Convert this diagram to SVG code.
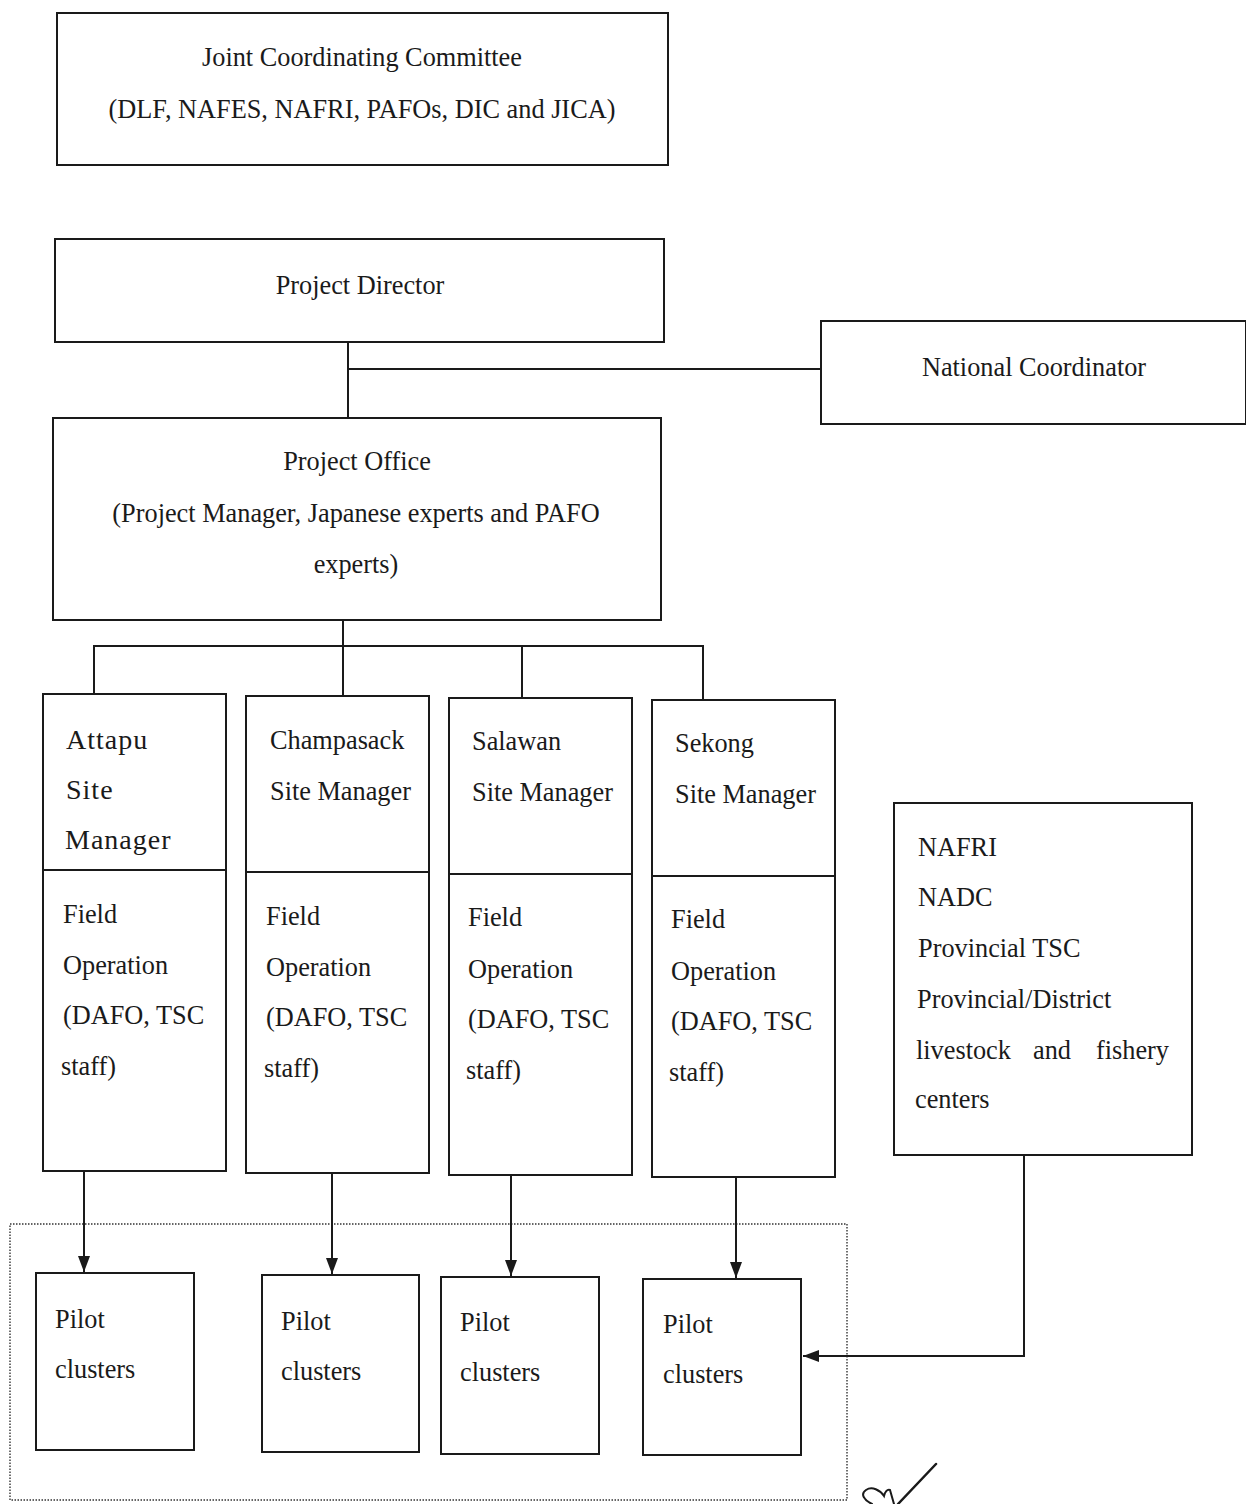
<svg xmlns="http://www.w3.org/2000/svg" width="1246" height="1504" viewBox="0 0 1246 1504">
  <style>
    .box { fill: #ffffff; stroke: #1a1a1a; stroke-width: 2; }
    .div { stroke: #1a1a1a; stroke-width: 2; }
    .wire { fill: none; stroke: #1a1a1a; stroke-width: 2; }
    .dot { fill: none; stroke: #333333; stroke-width: 1.4; stroke-dasharray: 1.5 1.5; }
    text { font-family: "Liberation Serif", "Times New Roman", serif; font-size: 26.3px; fill: #1a1a1a; }
    .mid { text-anchor: middle; }
    .big { font-size: 28px; letter-spacing: 1px; }
  </style>
  <defs>
    <marker id="head" viewBox="0 0 16 12" refX="16" refY="6" markerWidth="16" markerHeight="12" markerUnits="userSpaceOnUse" orient="auto">
      <path d="M0,0 L16,6 L0,12 Z" fill="#1a1a1a"/>
    </marker>
  </defs>

  <rect width="1246" height="1504" fill="#ffffff"/>

  <!-- grouping frame around the pilot clusters -->
  <rect class="dot" x="10" y="1224" width="837" height="276"/>

  <!-- connectors -->
  <g id="connectors">
    <path class="wire" d="M348,342 V418 M348,369 H821"/>
    <path class="wire" d="M343,620 V646 M94,694 V646 H703 V700 M343,646 V696 M522,646 V698"/>
    <path class="wire" d="M84,1171 V1272" marker-end="url(#head)"/>
    <path class="wire" d="M332,1173 V1274" marker-end="url(#head)"/>
    <path class="wire" d="M511,1175 V1276" marker-end="url(#head)"/>
    <path class="wire" d="M736,1177 V1278" marker-end="url(#head)"/>
    <path class="wire" d="M1024,1155 V1356 H803" marker-end="url(#head)"/>
  </g>

  <g id="jcc">
    <rect class="box" x="57" y="13" width="611" height="152"/>
    <text class="mid" x="362" y="66">Joint Coordinating Committee</text>
    <text class="mid" x="362" y="118">(DLF, NAFES, NAFRI, PAFOs, DIC and JICA)</text>
  </g>

  <g id="project-director">
    <rect class="box" x="55" y="239" width="609" height="103"/>
    <text class="mid" x="360" y="294">Project Director</text>
  </g>

  <g id="national-coordinator">
    <rect class="box" x="821" y="321" width="425" height="103"/>
    <text class="mid" x="1034" y="376">National Coordinator</text>
  </g>

  <g id="project-office">
    <rect class="box" x="53" y="418" width="608" height="202"/>
    <text class="mid" x="357" y="470">Project Office</text>
    <text class="mid" x="356" y="522">(Project Manager, Japanese experts and PAFO</text>
    <text class="mid" x="356" y="573">experts)</text>
  </g>

  <g id="site-attapu">
    <rect class="box" x="43" y="694" width="183" height="477"/>
    <line class="div" x1="43" y1="870" x2="226" y2="870"/>
    <text class="big" x="66" y="749">Attapu</text>
    <text class="big" x="66" y="799">Site</text>
    <text class="big" x="65" y="849">Manager</text>
    <text x="63" y="923">Field</text>
    <text x="63" y="974">Operation</text>
    <text x="63" y="1024">(DAFO, TSC</text>
    <text x="61" y="1075">staff)</text>
  </g>

  <g id="site-champasack">
    <rect class="box" x="246" y="696" width="183" height="477"/>
    <line class="div" x1="246" y1="872" x2="429" y2="872"/>
    <text x="270" y="749">Champasack</text>
    <text x="270" y="800">Site Manager</text>
    <text x="266" y="925">Field</text>
    <text x="266" y="976">Operation</text>
    <text x="266" y="1026">(DAFO, TSC</text>
    <text x="264" y="1077">staff)</text>
  </g>

  <g id="site-salawan">
    <rect class="box" x="449" y="698" width="183" height="477"/>
    <line class="div" x1="449" y1="874" x2="632" y2="874"/>
    <text x="472" y="750">Salawan</text>
    <text x="472" y="801">Site Manager</text>
    <text x="468" y="926">Field</text>
    <text x="468" y="978">Operation</text>
    <text x="468" y="1028">(DAFO, TSC</text>
    <text x="466" y="1079">staff)</text>
  </g>

  <g id="site-sekong">
    <rect class="box" x="652" y="700" width="183" height="477"/>
    <line class="div" x1="652" y1="876" x2="835" y2="876"/>
    <text x="675" y="752">Sekong</text>
    <text x="675" y="803">Site Manager</text>
    <text x="671" y="928">Field</text>
    <text x="671" y="980">Operation</text>
    <text x="671" y="1030">(DAFO, TSC</text>
    <text x="669" y="1081">staff)</text>
  </g>

  <g id="support-institutions">
    <rect class="box" x="894" y="803" width="298" height="352"/>
    <text x="918" y="856">NAFRI</text>
    <text x="918" y="906">NADC</text>
    <text x="918" y="957">Provincial TSC</text>
    <text x="917" y="1008">Provincial/District</text>
    <text y="1059"><tspan x="916">livestock</tspan> <tspan x="1033">and</tspan> <tspan x="1096">fishery</tspan></text>
    <text x="915" y="1108">centers</text>
  </g>

  <g id="pilot-attapu">
    <rect class="box" x="36" y="1273" width="158" height="177"/>
    <text x="55" y="1328">Pilot</text>
    <text x="55" y="1378">clusters</text>
  </g>

  <g id="pilot-champasack">
    <rect class="box" x="262" y="1275" width="157" height="177"/>
    <text x="281" y="1330">Pilot</text>
    <text x="281" y="1380">clusters</text>
  </g>

  <g id="pilot-salawan">
    <rect class="box" x="441" y="1277" width="158" height="177"/>
    <text x="460" y="1331">Pilot</text>
    <text x="460" y="1381">clusters</text>
  </g>

  <g id="pilot-sekong">
    <rect class="box" x="643" y="1279" width="158" height="176"/>
    <text x="663" y="1333">Pilot</text>
    <text x="663" y="1383">clusters</text>
  </g>

  <!-- initials mark, lower right -->
  <path d="M898,1504 L936,1464" fill="none" stroke="#1a1a1a" stroke-width="2.5" stroke-linecap="round"/>
  <path d="M872,1504 C864,1500 860,1494 866,1490 C872,1486 880,1490 884,1496 C885,1492 887,1489 890,1490 L894,1504" fill="none" stroke="#1a1a1a" stroke-width="2" stroke-linecap="round"/>
</svg>
